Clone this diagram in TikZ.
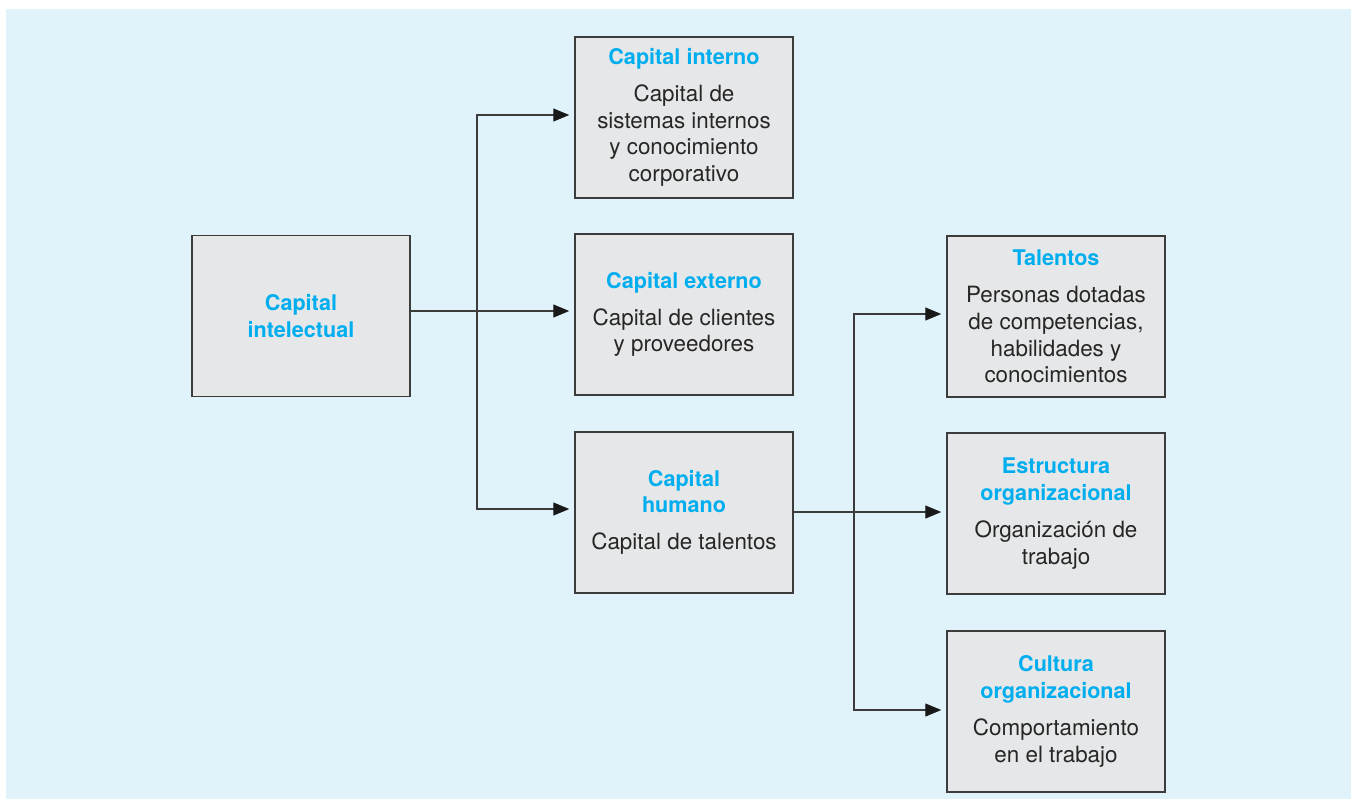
\documentclass[tikz,border=0pt]{standalone}
\usepackage{fontspec}
\setmainfont{TeX Gyre Heros}
\usetikzlibrary{arrows.meta,positioning}
\definecolor{panelblue}{HTML}{E0F3FB}
\definecolor{boxgray}{HTML}{E6E7E8}
\definecolor{titleblue}{HTML}{00AEEF}
\definecolor{linegray}{HTML}{3C3C3C}
\tikzset{
  cap box/.style={draw=linegray,fill=boxgray,line width=0.75pt,minimum width=109pt,minimum height=80.5pt,inner sep=0pt,align=center,font=\fontsize{11.2}{13.3}\selectfont,text=black!85},
  cap edge/.style={-{Triangle[length=8pt,width=6.5pt,fill=black!90,color=black!90]},draw=linegray,line width=0.65pt,shorten >=2.5pt},
}
\newcommand{\captitle}[1]{{\color{titleblue}\fontsize{10.8}{13.3}\selectfont\bfseries #1}}

\begin{document}
\begin{tikzpicture}[x=0.5pt,y=-0.5pt]
  \useasboundingbox (0,0) rectangle (1355,799);
  \fill[panelblue] (6,9) rectangle (1351,799);
  % left column
  \node[cap box] (intelectual) at (301,316) {\captitle{Capital}\\\captitle{intelectual}};
  % middle column
  \node[cap box] (interno) at (684,117.5) {\captitle{Capital interno}\\[5.2pt]Capital de\\sistemas internos\\y conocimiento\\corporativo};
  \node[cap box] (externo) at (684,314.5) {\captitle{Capital externo}\\[5.2pt]Capital de clientes\\y proveedores};
  \node[cap box] (humano) at (684,512.5) {\captitle{Capital}\\\captitle{humano}\\[5.2pt]Capital de talentos};
  % right column
  \node[cap box] (talentos) at (1056,316.5) {\captitle{Talentos}\\[5.2pt]Personas dotadas\\de competencias,\\habilidades y\\conocimientos};
  \node[cap box] (estructura) at (1056,513.5) {\captitle{Estructura}\\\captitle{organizacional}\\[5.2pt]Organización de\\trabajo};
  \node[cap box] (cultura) at (1056,711.5) {\captitle{Cultura}\\\captitle{organizacional}\\[5.2pt]Comportamiento\\en el trabajo};
  % connectors
  \coordinate (split) at (477,311);
  \coordinate (split2) at (854,512);
  \draw[cap edge] (intelectual.east |- split) -- (externo.west |- split);
  \draw[cap edge] (split) |- ([yshift=1.25pt]interno.west);
  \draw[cap edge] (split) |- ([yshift=1.75pt]humano.west);
  \draw[cap edge] (humano.east |- split2) -- (estructura.west |- split2);
  \draw[cap edge] (split2) |- ([yshift=1.25pt]talentos.west);
  \draw[cap edge] (split2) |- ([yshift=0.75pt]cultura.west);
\end{tikzpicture}
\end{document}
